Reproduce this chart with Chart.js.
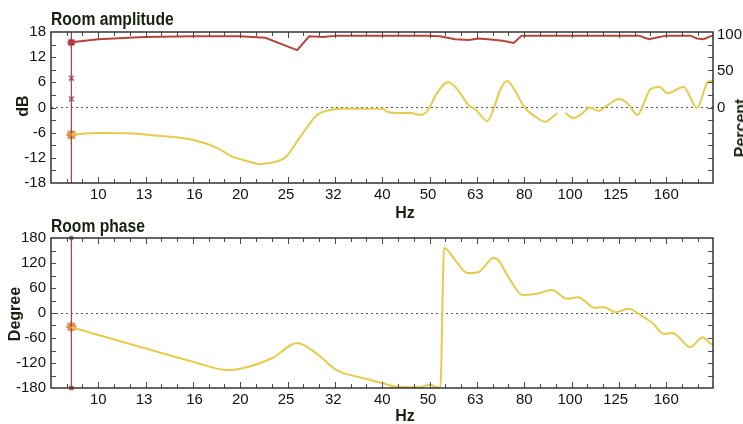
<!DOCTYPE html>
<html>
<head>
<meta charset="utf-8">
<script src="https://cdn.jsdelivr.net/npm/chart.js@4.4.0/dist/chart.umd.min.js"></script>
<style>
  html, body { margin: 0; padding: 0; background: #fff; width: 743px; height: 424px; overflow: hidden; position: relative; }
  .box { position: absolute; left: 0; width: 743px; }
  #ampBox { top: 0; height: 205px; }
  #phaseBox { top: 200px; height: 224px; }
  .lbl { position: absolute; font-family: "Liberation Sans Narrow", "Liberation Sans", Arial, sans-serif; font-weight: bold; color: #17210f; white-space: nowrap; line-height: 1; }
  .title { font-size: 18px; transform: scaleX(0.87); transform-origin: left top; }
  .axt { font-size: 16px; transform: translate(-50%, -50%); }
  .rot { transform: translate(-50%, -50%) rotate(-90deg); }
</style>
</head>
<body>
<div class="box" id="ampBox"><canvas id="amp"></canvas></div>
<div class="box" id="phaseBox"><canvas id="phase"></canvas></div>

<div class="lbl title" style="left:51px; top:10px;">Room amplitude</div>
<div class="lbl title" style="left:51px; top:217px;">Room phase</div>
<div class="lbl axt" style="left:405px; top:213px;">Hz</div>
<div class="lbl axt" style="left:405px; top:416px;">Hz</div>
<div class="lbl axt rot" style="left:23px; top:106px;">dB</div>
<div class="lbl axt rot" style="left:15px; top:314px;">Degree</div>
<div class="lbl axt rot" style="left:741px; top:128px;">Percent</div>

<script>
// x axis: third-octave frequencies
const hzTicks = [10, 12.5, 16, 20, 25, 31.5, 40, 50, 63, 80, 100, 125, 160];
const hzLabels = ['10', '13', '16', '20', '25', '32', '40', '50', '63', '80', '100', '125', '160'];

// amplitude (dB)
const ampHz = [8.77, 10, 11.9, 13, 16, 17.9, 19.3, 20, 21, 22, 24, 25, 26.8, 29.1, 31, 33, 40, 41, 43, 46, 48.2, 50, 52, 55.2, 58, 61, 63, 66.8, 69, 71, 73.6, 76, 80, 84, 88.6, 92, 94, 95.8, 97.7, 101.6, 106, 110, 115, 120, 127, 133, 139, 144, 147.6, 154.8, 161, 174, 186, 196, 201];
const ampDb = [-6.5, -6.1, -6.2, -6.6, -7.8, -9.7, -11.8, -12.3, -13, -13.5, -12.8, -11.8, -7, -1.8, -0.6, -0.3, -0.3, -1, -1.3, -1.3, -1.8, -0.6, 3, 6.1, 4, 0.5, -0.4, -3.2, 0, 4, 6.3, 4.5, 0.1, -2, -3.4, -2.2, -1.3, null, -1.3, -2.5, -1.5, 0, -0.8, 0.5, 2, 0.8, -1.8, 1.5, 4.2, 4.9, 3.4, 4.9, -0.1, 6.1, 6.4];

// coherence (percent)
const cohHz = [8.77, 10, 12.5, 16, 20, 22.6, 26.4, 28, 30, 32, 40, 50, 53, 57, 61, 64, 67, 72, 76, 79, 85, 100, 140, 147, 152, 160, 180, 186, 192, 198, 201];
const cohPct = [90, 94, 97, 98, 98, 96, 79, 98, 97, 99, 99, 99, 98, 94, 93, 95, 94, 92, 89, 99, 99, 99, 99, 94, 96, 99, 99, 95, 94, 98, 99];

// phase (degree)
const phaseHz = [8.77, 10, 12.5, 16, 18.8, 20, 23.4, 26.4, 29.3, 32, 36, 40, 43, 48, 50.5, 52, 53.1, 54.1, 57, 60.6, 63.9, 66, 68.8, 70, 74.7, 79.3, 85, 91.5, 98.7, 104, 113, 118, 125, 133, 142, 150, 158, 165, 180, 191, 198, 201];
const phaseDeg = [-34, -53, -84, -118, -137, -134, -108, -72, -101, -137, -155, -168, -177, -178, -172, -178, -180, 156, 128, 96, 98, 113, 132, 130, 79, 43, 46, 55, 34, 38, 12, 14, 2, 10, -7, -25, -50, -48, -82, -58, -72, -76];

// cursor
const cursorHz = 8.77;
const ampCursorMarks = [15.5, 7, 2, -6.5];
const phaseCursorMarks = [180, -33, -180];

const ampRange = [-18, 18];
const phaseRange = [-180, 180];
const pctRange = [-104, 104];
const pctLabels = [0, 50, 100];

const xRange = [7.94, 201];
// 1/9 octave tick marks
const minorHz = [];
for (let k = -2; k <= 39; k++) minorHz.push(10 * Math.pow(2, k / 9));

const tickFont = { family: '"Liberation Sans", Arial, sans-serif', size: 15 };
const tickColor = '#111';
const yellow = '#e6cb4c';
const red = '#b5443c';
const cursorColor = '#a5404e';

const pts = (xs, ys) => xs.map((x, i) => ({ x: x, y: ys[i] }));

const frameTicks = {
  id: 'frameTicks',
  afterDatasetsDraw(chart, args, o) {
    const { ctx, chartArea: a } = chart;
    const xs = chart.scales.x, ys = chart.scales.y;
    ctx.save();
    ctx.strokeStyle = '#4a4a4a';
    ctx.lineWidth = 1;
    ctx.beginPath();
    minorHz.forEach(v => {
      const px = Math.round(xs.getPixelForValue(v)) + 0.5;
      if (px <= a.left + 2 || px >= a.right - 2) return;
      const len = hzTicks.some(m => Math.abs(Math.log(m / v)) < 0.02) ? 6 : 4;
      ctx.moveTo(px, a.bottom); ctx.lineTo(px, a.bottom - len);
      ctx.moveTo(px, a.top); ctx.lineTo(px, a.top + len);
    });
    for (let v = ys.min + o.yStep; v < ys.max; v += o.yStep) {
      const py = Math.round(ys.getPixelForValue(v)) + 0.5;
      ctx.moveTo(a.left, py); ctx.lineTo(a.left + 5, py);
      ctx.moveTo(a.right, py); ctx.lineTo(a.right - 5, py);
    }
    ctx.stroke();
    ctx.lineWidth = 1.5;
    ctx.strokeStyle = '#333';
    ctx.strokeRect(a.left, a.top, a.right - a.left, a.bottom - a.top);
    ctx.restore();
  }
};

function xScale(h) {
  return {
    type: 'logarithmic',
    min: xRange[0],
    max: xRange[1],
    afterBuildTicks: s => { s.ticks = hzTicks.map(v => ({ value: v })); },
    afterFit: s => { s.height = h; },
    grid: { display: false, drawTicks: false },
    border: { display: false },
    ticks: {
      autoSkip: false, maxRotation: 0, padding: 3, font: tickFont, color: tickColor,
      callback: (v, i) => hzLabels[i]
    }
  };
}

function zeroGrid() {
  return {
    color: c => (c.tick && c.tick.value === 0) ? '#4f5f45' : 'transparent',
    lineWidth: 1,
    drawTicks: false
  };
}

const common = {
  responsive: true,
  maintainAspectRatio: false,
  animation: false,
  plugins: { legend: { display: false }, tooltip: { enabled: false } }
};

new Chart(document.getElementById('amp'), {
  type: 'line',
  data: {
    datasets: [
      {
        label: 'Coherence',
        data: pts(cohHz, cohPct),
        yAxisID: 'yPct',
        borderColor: red, borderWidth: 2, pointRadius: 0, tension: 0
      },
      {
        label: 'Amplitude',
        data: pts(ampHz, ampDb),
        yAxisID: 'y',
        borderColor: yellow, borderWidth: 2, pointRadius: 0,
        cubicInterpolationMode: 'monotone', spanGaps: false
      },
      {
        label: 'Cursor',
        data: pts([cursorHz, cursorHz], ampRange),
        yAxisID: 'y',
        borderColor: cursorColor, borderWidth: 1.2, pointRadius: 0
      },
      {
        label: 'Cursor marks',
        data: pts(ampCursorMarks.map(() => cursorHz), ampCursorMarks),
        yAxisID: 'y',
        showLine: false,
        pointStyle: ['star', 'crossRot', 'crossRot', 'star'],
        pointRadius: [4, 3.5, 3.5, 5],
        pointBorderWidth: [2, 1.5, 1.5, 2.5],
        pointBorderColor: ['#b0363a', '#a3606a', '#a3606a', '#e0904a'],
        pointBackgroundColor: ['#b0363a', '#a3606a', '#a3606a', '#e0904a'],
        clip: false
      }
    ]
  },
  options: Object.assign({}, common, {
    layout: { padding: { top: 32, left: 0, right: 0, bottom: 0 } },
    scales: {
      x: xScale(22),
      y: {
        position: 'left', min: ampRange[0], max: ampRange[1],
        afterFit: s => { s.width = 51; },
        grid: zeroGrid(),
        border: { display: false, dash: [2, 3] },
        ticks: { stepSize: 6, padding: 5, font: tickFont, color: tickColor }
      },
      yPct: {
        position: 'right', min: pctRange[0], max: pctRange[1],
        afterBuildTicks: s => { s.ticks = pctLabels.map(v => ({ value: v })); },
        afterFit: s => { s.width = 30; },
        grid: { display: false, drawTicks: false },
        border: { display: false },
        ticks: { padding: 4, font: tickFont, color: tickColor }
      }
    },
    plugins: Object.assign({}, common.plugins, { frameTicks: { yStep: 3 } })
  }),
  plugins: [frameTicks]
});

new Chart(document.getElementById('phase'), {
  type: 'line',
  data: {
    datasets: [
      {
        label: 'Phase',
        data: pts(phaseHz, phaseDeg),
        borderColor: yellow, borderWidth: 2, pointRadius: 0,
        cubicInterpolationMode: 'monotone'
      },
      {
        label: 'Cursor',
        data: pts([cursorHz, cursorHz], phaseRange),
        borderColor: cursorColor, borderWidth: 1.2, pointRadius: 0
      },
      {
        label: 'Cursor marks',
        data: pts(phaseCursorMarks.map(() => cursorHz), phaseCursorMarks),
        showLine: false,
        pointStyle: ['circle', 'star', 'rect'],
        pointRadius: [2, 5, 2.5],
        pointBorderWidth: [1, 2.5, 1],
        pointBorderColor: ['#777', '#e08a4a', '#c0504a'],
        pointBackgroundColor: ['#777', '#e08a4a', '#c0504a'],
        clip: false
      }
    ]
  },
  options: Object.assign({}, common, {
    layout: { padding: { top: 38, left: 0, right: 30, bottom: 0 } },
    scales: {
      x: xScale(36),
      y: {
        position: 'left', min: phaseRange[0], max: phaseRange[1],
        afterFit: s => { s.width = 51; },
        grid: zeroGrid(),
        border: { display: false, dash: [2, 3] },
        ticks: { stepSize: 60, padding: 5, font: tickFont, color: tickColor }
      }
    },
    plugins: Object.assign({}, common.plugins, { frameTicks: { yStep: 30 } })
  }),
  plugins: [frameTicks]
});
</script>
</body>
</html>
